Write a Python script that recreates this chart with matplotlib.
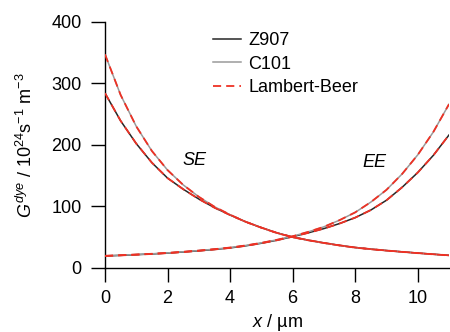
import matplotlib
matplotlib.use("Agg")
import matplotlib.pyplot as plt

# =========================
# DATA
# =========================

x_um = [0, 0.5, 1, 1.5, 2, 2.5, 3, 3.5, 4, 4.5, 5, 5.5,
        6, 6.5, 7, 7.5, 8, 8.5, 9, 9.5, 10, 10.5, 11]

# substrate-electrode (SE) illumination
se_z907 = [284, 239, 202, 171, 146, 128, 112, 98, 86, 75, 65.6, 57,
           50.3, 45.2, 40.8, 36.8, 33.3, 30.7, 28.4, 26.3, 24.3, 22.4, 20.6]
se_c101 = [347, 281, 230, 190, 159, 135, 115.6, 99.5, 86.5, 75, 65.4, 56.8,
           49.9, 45, 40.6, 36.6, 33.1, 30.5, 28.2, 26.1, 24.1, 22.2, 20.4]

# electrolyte-electrode (EE) illumination
ee_z907 = [19.5, 20.5, 21.6, 22.8, 24.2, 26.0, 27.9, 30.1, 32.6, 36.0, 40.2, 45.1,
           50.9, 57.1, 64.0, 72.2, 81.8, 94.1, 110, 131, 155, 183, 216]
ee_c101 = [19.8, 20.8, 21.9, 23.1, 24.5, 26.3, 28.3, 30.6, 33.2, 36.6, 40.8, 45.8,
           51.5, 58.7, 66.9, 77.7, 90.3, 107, 126.9, 152.7, 183.7, 221, 266]

xticks = [0, 2, 4, 6, 8, 10]
yticks = [0, 100, 200, 300, 400]

# =========================
# STYLE
# =========================

plt.rcParams["font.family"] = "Liberation Sans"
plt.rcParams["mathtext.fontset"] = "custom"
plt.rcParams["mathtext.rm"] = "Liberation Sans"
plt.rcParams["mathtext.it"] = "Liberation Sans:italic"

BLACK = "#262626"
GRAY = "#9a9a9a"
RED = "#ee3124"
FS = 13

fig = plt.figure(figsize=(4.5, 3.32), dpi=100)
ax = fig.add_axes([105 / 450, 1 - 268 / 332, 344 / 450, (268 - 21.7) / 332])

# model curves
ax.plot(x_um, se_z907, color=BLACK, lw=1.1, label="Z907")
ax.plot(x_um, se_c101, color=GRAY, lw=1.1, label="C101")
ax.plot(x_um, ee_z907, color=BLACK, lw=1.1)
ax.plot(x_um, ee_c101, color=GRAY, lw=1.1)

# Lambert-Beer lies on top of every curve
lb_kw = dict(color=RED, lw=1.3, dashes=(4.5, 2.8), zorder=3)
ax.plot(x_um, se_z907, label="Lambert-Beer", **lb_kw)
ax.plot(x_um, se_c101, **lb_kw)
ax.plot(x_um, ee_z907, **lb_kw)
ax.plot(x_um, ee_c101, **lb_kw)

ax.set_xlim(0, 11)
ax.set_ylim(0, 400)
ax.set_xticks(xticks)
ax.set_yticks(yticks)

for side in ("top", "right"):
    ax.spines[side].set_visible(False)
for side in ("left", "bottom"):
    ax.spines[side].set_linewidth(1.0)

ax.tick_params(direction="out", length=10, width=1.0, labelsize=FS)
ax.tick_params(axis="y", pad=7)
ax.tick_params(axis="x", pad=6)

ax.set_xlabel(r"$x$ / µm", fontsize=FS)
ax.xaxis.set_label_coords(0.5, -0.18)
ax.set_ylabel(r"$G^{dye}$ / 10$^{24}$s$^{-1}$ m$^{-3}$", fontsize=FS)
ax.yaxis.set_label_coords(-0.2, 0.5)

ax.text(2.86, 174, "SE", style="italic", fontsize=FS, ha="center", va="center")
ax.text(8.6, 172, "EE", style="italic", fontsize=FS, ha="center", va="center")

ax.legend(loc="upper left", bbox_to_anchor=(213 / 450, 1 - 32 / 332),
          bbox_transform=fig.transFigure, frameon=False, fontsize=FS,
          handlelength=1.55, handletextpad=0.42, labelspacing=0.37,
          borderpad=0, borderaxespad=0)

fig.savefig("out.png", dpi=100)
